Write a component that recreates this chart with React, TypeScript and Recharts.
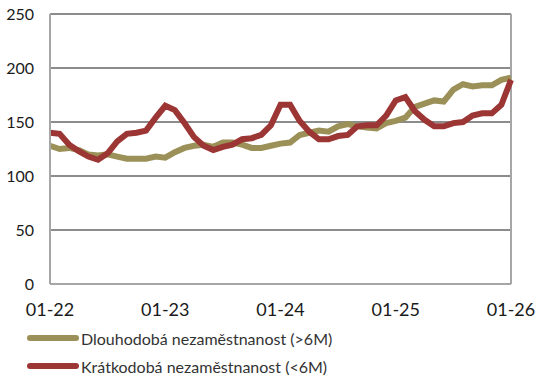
import { LineChart, Line, XAxis, YAxis, CartesianGrid, ReferenceLine } from "recharts"

const months = [
  "01-22", "02-22", "03-22", "04-22", "05-22", "06-22", "07-22", "08-22", "09-22", "10-22", "11-22", "12-22",
  "01-23", "02-23", "03-23", "04-23", "05-23", "06-23", "07-23", "08-23", "09-23", "10-23", "11-23", "12-23",
  "01-24", "02-24", "03-24", "04-24", "05-24", "06-24", "07-24", "08-24", "09-24", "10-24", "11-24", "12-24",
  "01-25", "02-25", "03-25", "04-25", "05-25", "06-25", "07-25", "08-25", "09-25", "10-25", "11-25", "12-25",
  "01-26",
]

// >6M
const longTerm = [
  128, 125, 126, 124, 120, 119, 120, 118, 116, 116, 116, 118,
  117, 122, 126, 128, 129, 127, 131, 131, 129, 126, 126, 128,
  130, 131, 138, 140, 142, 141, 146, 148, 146, 145, 144, 149,
  151, 154, 164, 167, 170, 169, 180, 185, 183, 184, 184, 189,
  191,
]

// <6M
const shortTerm = [
  140, 139, 129, 123, 118, 115, 121, 132, 139, 140, 142, 154,
  165, 161, 149, 136, 128, 124, 127, 129, 134, 135, 138, 147,
  166, 166, 151, 141, 134, 134, 137, 138, 146, 147, 147, 156,
  170, 173, 160, 152, 146, 146, 149, 150, 156, 158, 158, 166,
  189,
]

const xTicks = ["01-22", "01-23", "01-24", "01-25", "01-26"]
const yTicks = [0, 50, 100, 150, 200, 250]

const LONG_NAME = "Dlouhodobá nezaměstnanost (>6M)"
const SHORT_NAME = "Krátkodobá nezaměstnanost (<6M)"
const OLIVE = "#9B9057"
const RED = "#9C3634"
const FONT = "Lato, 'Open Sans', sans-serif"

const data = months.map((m, i) => ({ month: m, long: longTerm[i], short: shortTerm[i] }))

function LegendRows() {
  const rows = [
    { name: LONG_NAME, color: OLIVE },
    { name: SHORT_NAME, color: RED },
  ]
  return (
    <div style={{ position: "absolute", left: 27, top: 324 }}>
      {rows.map((r) => (
        <div key={r.name} style={{ display: "flex", alignItems: "center", height: 28 }}>
          <div style={{ width: 52, height: 6, borderRadius: 3, background: r.color, marginRight: 2 }} />
          <span style={{ fontSize: 16, color: "#333", fontFamily: FONT }}>{r.name}</span>
        </div>
      ))}
    </div>
  )
}

export default function App() {
  return (
    <div style={{ position: "absolute", left: 0, top: 0, width: 546, height: 389, background: "#fff" }}>
      <LineChart
        width={546}
        height={389}
        data={data}
        margin={{ top: 14, right: 35, left: 0, bottom: 75 }}
      >
        <CartesianGrid vertical={false} stroke="#8c8c8c" strokeWidth={2} />
        <XAxis
          dataKey="month"
          ticks={xTicks}
          interval={0}
          height={30}
          tickLine={false}
          axisLine={{ stroke: "#a6a6a6", strokeWidth: 2 }}
          tickMargin={13}
          tick={{ fontSize: 18, fill: "#1a1a1a", fontFamily: FONT }}
        />
        <YAxis
          domain={[0, 250]}
          ticks={yTicks}
          width={50}
          tickLine={false}
          axisLine={{ stroke: "#a6a6a6", strokeWidth: 2 }}
          tickMargin={10}
          tick={{ fontSize: 16, fill: "#1a1a1a", fontFamily: FONT }}
        />
        <ReferenceLine x="01-26" stroke="#a6a6a6" strokeWidth={2} />
        <Line
          type="linear"
          dataKey="long"
          name={LONG_NAME}
          stroke={OLIVE}
          strokeWidth={6}
          dot={false}
          isAnimationActive={false}
        />
        <Line
          type="linear"
          dataKey="short"
          name={SHORT_NAME}
          stroke={RED}
          strokeWidth={6}
          dot={false}
          isAnimationActive={false}
        />
      </LineChart>
      <LegendRows />
    </div>
  )
}
